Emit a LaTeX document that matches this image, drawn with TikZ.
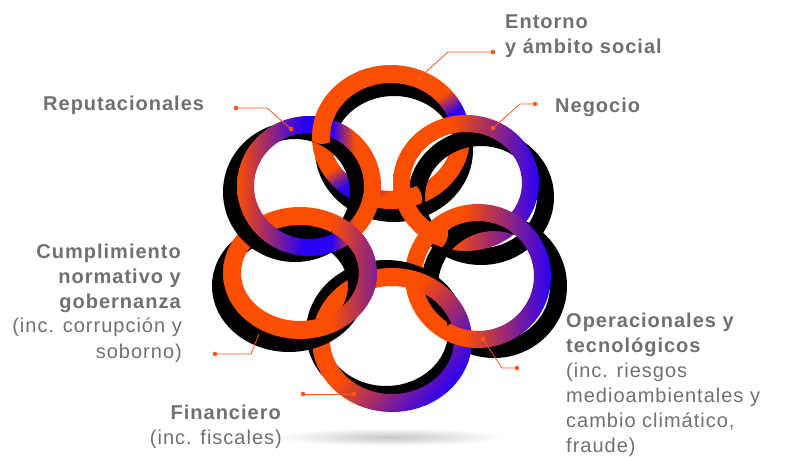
\documentclass[tikz,border=0pt]{standalone}
\usepackage{fontspec}
\setmainfont{Liberation Sans}[LetterSpace=5]

\definecolor{ringor}{RGB}{252,78,0}
\definecolor{ringbl}{RGB}{42,0,245}
\definecolor{txtgrey}{RGB}{112,112,112}
\definecolor{leadcol}{RGB}{250,88,28}

% colour runs along each ring
\pgfdeclarehorizontalshading{ringfade}{100bp}{color(0bp)=(ringor); color(45bp)=(ringor); color(75bp)=(ringbl); color(100bp)=(ringbl)}
\pgfdeclarehorizontalshading{ringfadet}{100bp}{color(0bp)=(ringor); color(48bp)=(ringor); color(55bp)=(ringbl); color(59bp)=(ringbl); color(65bp)=(ringor); color(100bp)=(ringor)}
\pgfdeclarehorizontalshading{ringfadec}{100bp}{color(0bp)=(ringor); color(60bp)=(ringor); color(85bp)=(ringbl); color(100bp)=(ringbl)}
\pgfdeclarehorizontalshading{ringfader}{100bp}{color(0bp)=(ringor); color(25bp)=(ringor); color(48bp)=(ringbl); color(58bp)=(ringbl); color(66bp)=(ringor); color(100bp)=(ringor)}

% #1,#2 centre, #3,#4 radii, #5 width
\newcommand{\ringshadow}[5]{\fill[black,even odd rule] (#1,#2) ellipse [x radius=#3pt, y radius=#4pt] (#1,#2) ellipse [x radius=#3pt-#5pt, y radius=#4pt-#5pt];}
\newcommand{\ringbody}[7]{\shade[shading=#6,shading angle=#7,even odd rule] (#1,#2) ellipse [x radius=#3pt, y radius=#4pt] (#1,#2) ellipse [x radius=#3pt-#5pt, y radius=#4pt-#5pt];}

\newcommand{\ringT}{\ringbody{391}{-137}{79}{72}{18}{ringfadet}{-56}}
\newcommand{\ringN}{\ringbody{466}{-183}{73}{68}{17}{ringfade}{0}}
\newcommand{\ringO}{\ringbody{478}{-276}{73}{72}{17}{ringfade}{0}}
\newcommand{\ringF}{\ringbody{392}{-340}{80}{72}{18}{ringfade}{-40}}
\newcommand{\ringC}{\ringbody{300}{-273}{77}{66}{18}{ringfadec}{0}}
\newcommand{\ringR}{\ringbody{309}{-186}{72}{70}{17}{ringfader}{0}}

\tikzset{
  lbl/.style={font=\fontsize{20}{25}\selectfont, text=txtgrey, inner sep=0pt},
  leader/.style={draw=leadcol, line width=0.8pt}
}

\begin{document}
\begin{tikzpicture}[x=1pt,y=1pt]
\useasboundingbox (0,0) rectangle (785,-457);

%floor shadow
\shade[inner color=black!22, outer color=white] (390,-437) ellipse [x radius=115pt, y radius=9pt];

%rings, each with its shadow
\ringshadow{394}{-150}{79}{72}{18} \ringT
\ringshadow{481}{-197}{73}{68}{17} \ringN
\ringshadow{494}{-286}{73}{72}{17} \ringO
\ringshadow{386}{-332}{80}{72}{18} \ringF
\ringshadow{289}{-286}{77}{66}{18} \ringC
\ringshadow{295}{-192}{72}{70}{17} \ringR

%crossings where the earlier ring lies on top
\begin{scope} \clip (322,-126) circle [radius=18pt]; \ringT \end{scope}
\begin{scope} \clip (404,-199) circle [radius=18pt]; \ringT \end{scope}
\begin{scope} \clip (430,-234) circle [radius=18pt]; \ringN \end{scope}
\begin{scope} \clip (462,-337) circle [radius=18pt]; \ringO \end{scope}
\begin{scope} \clip (365,-283) circle [radius=18pt]; \ringC \end{scope}
\begin{scope} \clip (350,-234) circle [radius=18pt]; \ringC \end{scope}

%labels (base = last line)
\node[lbl, anchor=base west, align=left] (entorno) at (505,-54) {\textbf{Entorno}\\\textbf{y ámbito social}};
\node[lbl, anchor=base west] (negocio) at (555,-113) {\textbf{Negocio}};
\node[lbl, anchor=base west] (reput) at (43,-111) {\textbf{Reputacionales}};
\node[lbl, anchor=base east, align=right] (cumpl) at (182,-358) {\textbf{Cumplimiento}\\\textbf{normativo y}\\\textbf{gobernanza}\\(inc. corrupción y\\soborno)};
\node[lbl, anchor=base east, align=right] (finan) at (282,-444) {\textbf{Financiero}\\(inc. fiscales)};
\node[lbl, anchor=base west, align=left] (operac) at (566,-452) {\textbf{Operacionales y}\\\textbf{tecnológicos}\\(inc. riesgos\\medioambientales y\\cambio climático,\\fraude)};

%leader lines
\coordinate (entorno-dot) at (493,-52);  \coordinate (entorno-ring) at (419,-78);
\coordinate (negocio-dot) at (535,-104); \coordinate (negocio-ring) at (493,-128);
\coordinate (reput-dot) at (236,-108);   \coordinate (reput-ring) at (291,-129);
\coordinate (cumpl-dot) at (215,-354);   \coordinate (cumpl-ring) at (259,-334);
\coordinate (finan-dot) at (303,-394);   \coordinate (finan-ring) at (354,-394);
\coordinate (operac-dot) at (517,-368);  \coordinate (operac-ring) at (483,-339);
\draw[leader] (entorno-dot) -- (448,-52) -- (entorno-ring);
\draw[leader] (negocio-dot) -- (520,-104) -- (negocio-ring);
\draw[leader] (reput-dot) -- (267,-108) -- (reput-ring);
\draw[leader] (cumpl-dot) -- (251,-354) -- (cumpl-ring);
\draw[leader] (finan-dot) -- (finan-ring);
\draw[leader] (operac-dot) -- (502,-368) -- (operac-ring);
\foreach \p in {entorno-dot,entorno-ring,negocio-dot,negocio-ring,reput-dot,reput-ring,cumpl-dot,finan-dot,finan-ring,operac-dot,operac-ring}
  \fill[leadcol] (\p) circle [radius=2.3pt];
\end{tikzpicture}
\end{document}
